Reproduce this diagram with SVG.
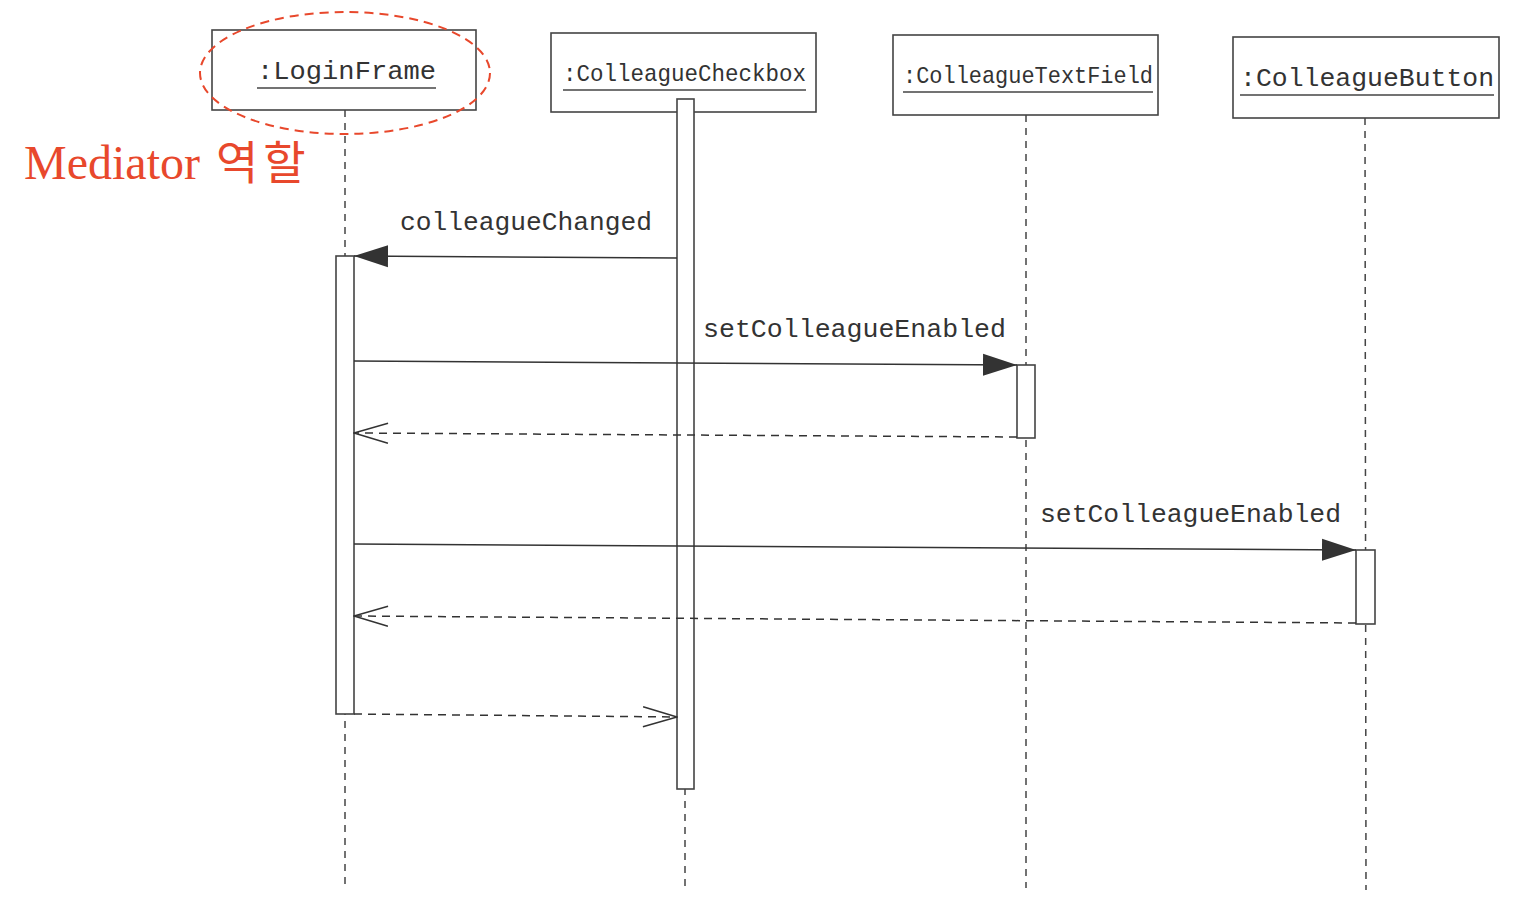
<svg xmlns="http://www.w3.org/2000/svg" width="1518" height="902" viewBox="0 0 1518 902">
<style>
.box{fill:#fff;stroke:#444;stroke-width:1.6}
.act{fill:#fff;stroke:#444;stroke-width:1.6}
.life{stroke:#444;stroke-width:1.5;stroke-dasharray:7,6;fill:none}
.msg{stroke:#333;stroke-width:1.5;fill:none}
.ret{stroke:#333;stroke-width:1.5;fill:none;stroke-dasharray:8,6}
.t{font-family:"Liberation Mono","DejaVu Sans Mono",monospace;fill:#333}
.ul{stroke:#444;stroke-width:1.6}
</style>
<defs>
<marker id="fill" markerWidth="36" markerHeight="24" refX="34" refY="12" orient="auto" markerUnits="userSpaceOnUse">
<path d="M0,1 L34,12 L0,23 Z" fill="#333"/>
</marker>
<marker id="open" markerWidth="36" markerHeight="24" refX="35" refY="12" orient="auto" markerUnits="userSpaceOnUse">
<path d="M1,2 L35,12 L1,22" fill="none" stroke="#333" stroke-width="1.5"/>
</marker>
</defs>
<rect width="1518" height="902" fill="#fff"/>

<g id="lifelines">
<line class="life" x1="345" y1="110" x2="345" y2="885"/>
<line class="life" x1="685" y1="112" x2="685" y2="886"/>
<line class="life" x1="1026" y1="115" x2="1026" y2="888"/>
<line class="life" x1="1365" y1="118" x2="1366" y2="890"/>
</g>

<g id="loginFrame">
<rect class="box" x="212" y="30" width="264" height="80"/>
<text class="t" x="257" y="79" font-size="26" textLength="179" lengthAdjust="spacingAndGlyphs">:LoginFrame</text>
<line class="ul" x1="257" y1="88" x2="436" y2="88"/>
<rect class="act" x="336" y="256" width="18" height="458"/>
</g>

<g id="colleagueCheckbox">
<rect class="box" x="551" y="33" width="265" height="79"/>
<text class="t" x="563" y="81" font-size="24" textLength="243" lengthAdjust="spacingAndGlyphs">:ColleagueCheckbox</text>
<line class="ul" x1="563" y1="90" x2="806" y2="90"/>
<rect class="act" x="677" y="99" width="17" height="690"/>
</g>

<g id="colleagueTextField">
<rect class="box" x="893" y="35" width="265" height="80"/>
<text class="t" x="903" y="83" font-size="24" textLength="250" lengthAdjust="spacingAndGlyphs">:ColleagueTextField</text>
<line class="ul" x1="903" y1="92" x2="1153" y2="92"/>
<rect class="act" x="1017" y="365" width="18" height="73"/>
</g>

<g id="colleagueButton">
<rect class="box" x="1233" y="37" width="266" height="81"/>
<text class="t" x="1240" y="86" font-size="26" textLength="254" lengthAdjust="spacingAndGlyphs">:ColleagueButton</text>
<line class="ul" x1="1240" y1="95" x2="1494" y2="95"/>
<rect class="act" x="1356" y="550" width="19" height="74"/>
</g>

<g id="connectors">
<line class="msg" x1="677" y1="258" x2="354" y2="256" marker-end="url(#fill)"/>
<line class="msg" x1="354" y1="361" x2="1017" y2="365" marker-end="url(#fill)"/>
<line class="ret" x1="1017" y1="437" x2="354" y2="433" marker-end="url(#open)"/>
<line class="msg" x1="354" y1="544" x2="1356" y2="550" marker-end="url(#fill)"/>
<line class="ret" x1="1356" y1="623" x2="354" y2="616" marker-end="url(#open)"/>
<line class="ret" x1="354" y1="714" x2="677" y2="717" marker-end="url(#open)"/>
</g>

<g id="labels">
<text class="t" x="400" y="230" font-size="26" textLength="252" lengthAdjust="spacingAndGlyphs">colleagueChanged</text>
<text class="t" x="703" y="337" font-size="26" textLength="303" lengthAdjust="spacingAndGlyphs">setColleagueEnabled</text>
<text class="t" x="1040" y="522" font-size="26" textLength="301" lengthAdjust="spacingAndGlyphs">setColleagueEnabled</text>
</g>

<g id="mediatorNote">
<ellipse cx="345" cy="73" rx="145" ry="61" fill="none" stroke="#e8482c" stroke-width="2" stroke-dasharray="9,6"/>
<text x="24" y="179" font-size="48" fill="#e8482c" font-family="'Liberation Serif','Noto Sans CJK KR',serif"><tspan textLength="176" lengthAdjust="spacingAndGlyphs">Mediator</tspan><tspan x="216" font-family="'Noto Sans CJK KR',sans-serif" font-size="46" letter-spacing="5">역할</tspan></text>
</g>
</svg>
